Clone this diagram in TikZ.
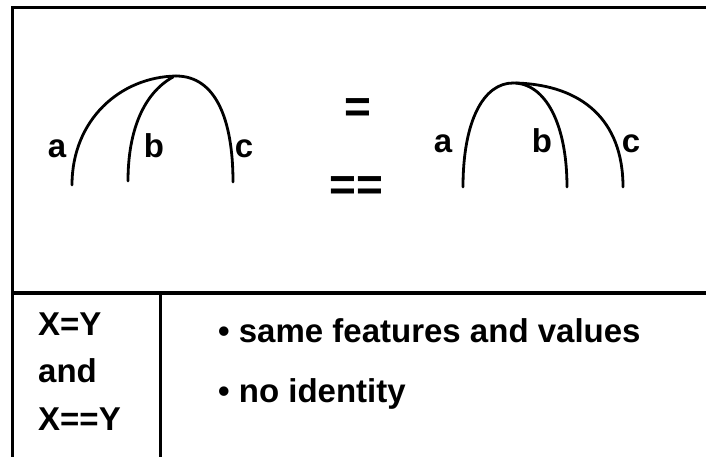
\documentclass[tikz,border=0pt]{standalone}
\usepackage{fontspec}
\setmainfont{Liberation Sans}
\begin{document}
\begin{tikzpicture}[x=1pt,y=-1pt,
  frame/.style={line width=3pt},
  arc/.style={line width=2.8pt, line cap=round},
  lbl/.style={inner sep=0pt, anchor=base, font=\fontsize{33}{36}\selectfont\bfseries},
  txt/.style={inner sep=0pt, anchor=base west, font=\fontsize{33}{40}\selectfont\bfseries},
  eq/.style={inner sep=0pt, anchor=center, font=\fontsize{46}{50}\selectfont\bfseries}]
\useasboundingbox (0,0) rectangle (706,457);
% frame
\coordinate (tl) at (12,7.5);
\coordinate (tr) at (706,7.5);
\coordinate (bl) at (12,457);
\coordinate (ml) at (12,293);
\coordinate (mr) at (706,293);
\coordinate (dt) at (160,293);
\coordinate (db) at (160,457);
\draw[frame] (bl) -- (tl) -- (tr);
\draw[line width=3.6pt] (ml) -- (mr);
\draw[line width=3pt] (dt) -- (db);
% left tree
\coordinate (LA) at (72,185);
\coordinate (LB) at (128,181);
\coordinate (LC) at (233,182);
\coordinate (LT) at (176,76);
\coordinate (LTb) at (173,77);
\draw[arc] (LA) .. controls (72,120) and (120,77) .. (LT);
\draw[arc] (LT) .. controls (216,76) and (233,120) .. (LC);
\draw[arc] (LB) .. controls (128,130) and (144,93) .. (LTb);
\node[lbl] (la) at (57,158) {a};
\node[lbl] (lb) at (154,158) {b};
\node[lbl] (lc) at (244,158) {c};
% equals
\node[eq] (eq1) at (358,111) {=};
\node[eq] (eq2) at (356,189) {==};
% right tree
\coordinate (RA) at (463,187);
\coordinate (RB) at (567,187);
\coordinate (RC) at (623,187);
\coordinate (RT) at (513,83);
\coordinate (RTc) at (516,83);
\draw[arc] (RA) .. controls (463,120) and (484,83) .. (RT);
\draw[arc] (RT) .. controls (546,83) and (567,125) .. (RB);
\draw[arc] (RTc) .. controls (582,85) and (623,120) .. (RC);
\node[lbl] (ra) at (443,153) {a};
\node[lbl] (rb) at (542,153) {b};
\node[lbl] (rc) at (631,153) {c};
% bottom table
\node[txt] (x1) at (38,335) {X=Y};
\node[txt] (and) at (38,382) {and};
\node[txt] (x2) at (38,430) {X==Y};
\node[txt] (t1) at (218,342) {• same features and values};
\node[txt] (t2) at (218,402) {• no identity};
\end{tikzpicture}
\end{document}
